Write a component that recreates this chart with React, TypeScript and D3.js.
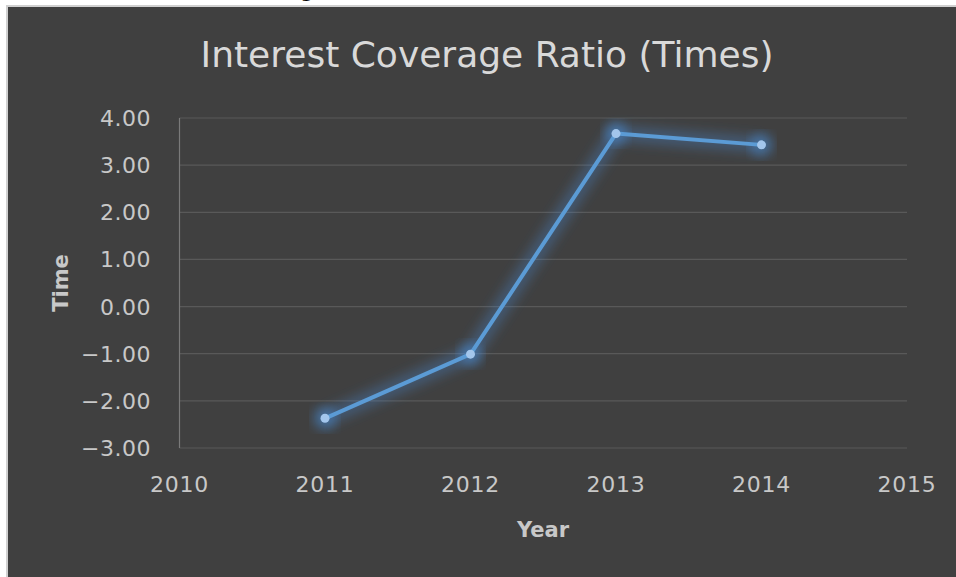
import React from "react";
import * as d3 from "d3";

const years = [2011, 2012, 2013, 2014];
const ratios = [-2.37, -1.01, 3.67, 3.43];
const yTicks = [4, 3, 2, 1, 0, -1, -2, -3];
const xTicks = [2010, 2011, 2012, 2013, 2014, 2015];
const title = "Interest Coverage Ratio (Times)";
const xTitle = "Year";
const yTitle = "Time";

const W = 956;
const H = 577;
const FONT = "'DejaVu Sans', sans-serif";

export default function App() {
  const x = d3.scaleLinear().domain([2010, 2015]).range([179.5, 907]);
  const y = d3.scaleLinear().domain([-3, 4]).range([448, 118]);
  const pts: [number, number][] = years.map((yr, i) => [x(yr), y(ratios[i])]);
  const line = d3.line<[number, number]>().x((d) => d[0]).y((d) => d[1]);
  const fmt = (v: number) => (v < 0 ? "\u2212" + Math.abs(v).toFixed(2) : v.toFixed(2));

  return (
    <svg
      width={W}
      height={H}
      style={{ position: "absolute", left: 0, top: 0, display: "block" }}
    >
      <defs>
        <filter id="glow" x="-20%" y="-20%" width="140%" height="140%">
          <feGaussianBlur stdDeviation="6" />
        </filter>
      </defs>
      <rect x={0} y={0} width={W} height={H} fill="#ffffff" />
      <text x={300} y={-3} fontFamily={FONT} fontSize={22} fill="#000">g</text>
      <rect x={6} y={5} width={W - 6} height={H - 5} fill="#d0d0d0" />
      <rect x={8} y={7} width={W - 8} height={H - 7} fill="#404040" />

      <text
        x={487}
        y={67}
        textAnchor="middle"
        fontFamily={FONT}
        fontSize={36}
        fill="#d9d9d9"
      >
        {title}
      </text>

      {yTicks.map((t) => (
        <g key={t}>
          <line x1={x(2010)} x2={x(2015)} y1={y(t)} y2={y(t)} stroke="#595959" strokeWidth={1.2} />
          <text
            x={151}
            y={y(t) + 8}
            textAnchor="end"
            fontFamily={FONT}
            fontSize={22}
            letterSpacing={0.5}
            fill="#c8c8c8"
          >
            {fmt(t)}
          </text>
        </g>
      ))}
      <line x1={x(2010)} x2={x(2010)} y1={y(4)} y2={y(-3)} stroke="#7a7a7a" strokeWidth={1.2} />

      {xTicks.map((t) => (
        <text
          key={t}
          x={x(t)}
          y={492}
          textAnchor="middle"
          fontFamily={FONT}
          fontSize={22}
          letterSpacing={0.8}
          fill="#c8c8c8"
        >
          {t}
        </text>
      ))}

      <text x={543} y={537} textAnchor="middle" fontFamily={FONT} fontSize={21} fontWeight="bold" fill="#c8c8c8">
        {xTitle}
      </text>
      <text
        transform={`translate(68,283) rotate(-90)`}
        textAnchor="middle"
        fontFamily={FONT}
        fontSize={21}
        fontWeight="bold"
        fill="#c8c8c8"
      >
        {yTitle}
      </text>

      <path d={line(pts) || ""} fill="none" stroke="#4a8ad0" strokeWidth={16} strokeOpacity={0.35} filter="url(#glow)" strokeLinejoin="round" />
      {pts.map((p, i) => (
        <circle key={"g" + i} cx={p[0]} cy={p[1]} r={11} fill="#4a8ad0" opacity={0.6} filter="url(#glow)" />
      ))}
      <path d={line(pts) || ""} fill="none" stroke="#5b9bd5" strokeWidth={4} strokeLinejoin="round" />
      {pts.map((p, i) => (
        <circle key={i} cx={p[0]} cy={p[1]} r={4.5} fill="#a3c6ec" />
      ))}
    </svg>
  );
}
